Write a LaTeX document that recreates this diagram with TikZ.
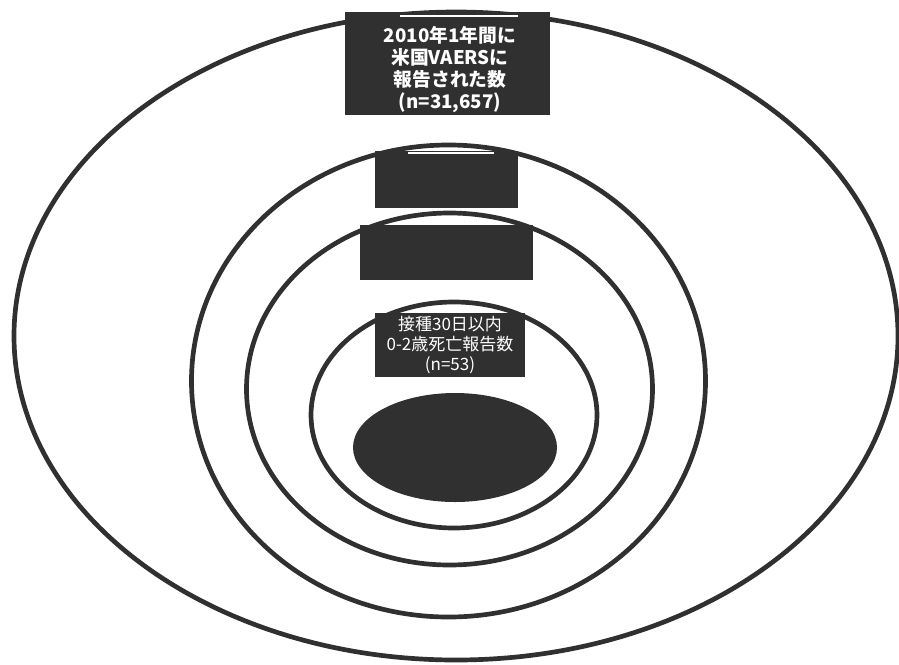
\documentclass[tikz,border=0pt]{standalone}
\usepackage{fontspec}
\newfontfamily\jpfont{Noto Sans CJK JP}
\definecolor{ink}{RGB}{48,48,48}

\begin{document}
\begin{tikzpicture}[x=0.03cm,y=-0.03cm,line width=4pt,
  ring/.style={draw=ink},
  darkbox/.style={rectangle,fill=ink,inner sep=0pt},
  boxtext/.style={text=white,align=center,inner sep=0pt,font=\jpfont\bfseries}]
\useasboundingbox (0,0) rectangle (899,664);
\draw[ring] (456,336) ellipse (442 and 324);
\draw[ring] (448.5,381) ellipse (257 and 236);
\draw[ring] (449.5,389) ellipse (203 and 176);
\draw[ring] (454,415) ellipse (143 and 113);
\fill[ink] (455,447.5) ellipse (102 and 54.5);
\node[darkbox,minimum width=6.15cm,minimum height=3.09cm] (box1) at (447.5,63.5) {};
\node[darkbox,minimum width=4.29cm,minimum height=1.71cm] (box2) at (446.5,179.5) {};
\node[darkbox,minimum width=5.19cm,minimum height=1.65cm] (box3) at (446.5,252.5) {};
\node[darkbox,minimum width=4.5cm,minimum height=1.92cm] (box4) at (450,345) {};
\draw[white,line width=1.2pt] (400,16)--(518,16);
\draw[white,line width=1.2pt] (408,153)--(494,153);
\node[boxtext,font=\jpfont\bfseries\fontsize{16pt}{18.8pt}\selectfont] (vaers) at (450,70)
  {2010年1年間に\\米国VAERSに\\報告された数\\(n=31,657)};
\node[boxtext,font=\jpfont\fontsize{14.5pt}{17pt}\selectfont] (deaths) at (box4.center)
  {接種30日以内\\0-2歳死亡報告数\\(n=53)};
\end{tikzpicture}
\end{document}
